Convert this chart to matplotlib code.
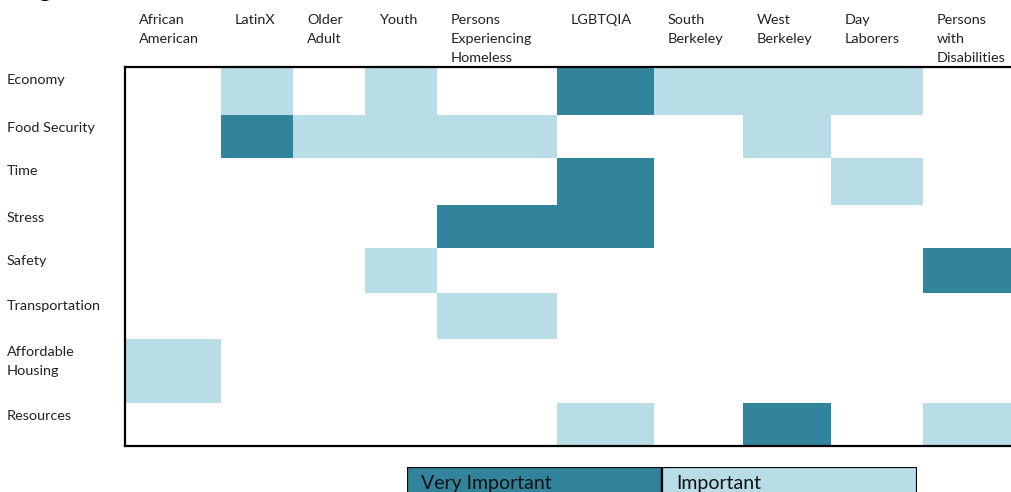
import matplotlib
matplotlib.use('Agg')
import matplotlib.pyplot as plt
from matplotlib.colors import ListedColormap
import numpy as np

plt.rcParams['font.family'] = ['Lato', 'DejaVu Sans']

# data
groups = ['African\nAmerican', 'LatinX', 'Older\nAdult', 'Youth',
          'Persons\nExperiencing\nHomeless', 'LGBTQIA', 'South\nBerkeley',
          'West\nBerkeley', 'Day\nLaborers', 'Persons\nwith\nDisabilities']
topics = ['Economy', 'Food Security', 'Time', 'Stress', 'Safety',
          'Transportation', 'Affordable\nHousing', 'Resources']
# 0 = not mentioned, 1 = important, 2 = very important
economy        = [0, 1, 0, 1, 0, 2, 1, 1, 1, 0]
food_security  = [0, 2, 1, 1, 1, 0, 0, 1, 0, 0]
time_          = [0, 0, 0, 0, 0, 2, 0, 0, 1, 0]
stress         = [0, 0, 0, 0, 2, 2, 0, 0, 0, 0]
safety         = [0, 0, 0, 1, 0, 0, 0, 0, 0, 2]
transportation = [0, 0, 0, 0, 1, 0, 0, 0, 0, 0]
housing        = [1, 0, 0, 0, 0, 0, 0, 0, 0, 0]
resources      = [0, 0, 0, 0, 0, 1, 0, 2, 0, 1]
legend_labels = ['Very Important', 'Important']

# layout (pixel-ish widths of the table cells)
col_w = [96, 72, 72, 72, 120, 97, 89, 88, 92, 89]
row_h = [48, 43, 47, 43, 45, 46, 64, 43]
dark = '#32849c'
light = '#b8dde7'

values = np.array([economy, food_security, time_, stress, safety,
                   transportation, housing, resources])
x_edges = np.concatenate([[0], np.cumsum(col_w)])
y_edges = np.concatenate([[0], np.cumsum(row_h)])

W, H = 1012, 492
fig = plt.figure(figsize=(W / 100, H / 100), dpi=100)
ax = fig.add_axes([125 / W, 1 - 446 / H, 887 / W, 379 / H])
cmap = ListedColormap(['white', light, dark])
ax.pcolormesh(x_edges, y_edges, values, cmap=cmap, vmin=-0.5, vmax=2.5)
ax.set_xlim(0, x_edges[-1])
ax.set_ylim(y_edges[-1], 0)
ax.set_xticks([])
ax.set_yticks([])
for s in ['top', 'left', 'bottom']:
    ax.spines[s].set_linewidth(1.6)
    ax.spines[s].set_color('black')
ax.spines['right'].set_visible(False)

for i, g in enumerate(groups):
    ax.text(x_edges[i] + 14, -53, g, ha='left', va='top', fontsize=10.4,
            linespacing=1.7, color='#222222', clip_on=False)
for j, t in enumerate(topics):
    ax.text(-118, y_edges[j] + 7, t, ha='left', va='top', fontsize=10.4,
            linespacing=1.7, color='#222222', clip_on=False)

# cut-off heading at the very top
fig.text(37 / W, 1 + 4 / H, 'g', fontsize=20, va='baseline', ha='left')

# legend box
lax = fig.add_axes([407 / W, 1 - 500 / H, 510 / W, 33 / H])
lax.bar([0, 1], [1, 1], width=1, align='edge', color=[dark, light],
        edgecolor='black', linewidth=1.6)
lax.set_xlim(0, 2)
lax.set_ylim(0, 1)
lax.axis('off')
for i, lab in enumerate(legend_labels):
    lax.text(i + 0.055, 0.5, lab, ha='left', va='center', fontsize=14,
             color='#111111')

fig.savefig('out.png', dpi=100)
